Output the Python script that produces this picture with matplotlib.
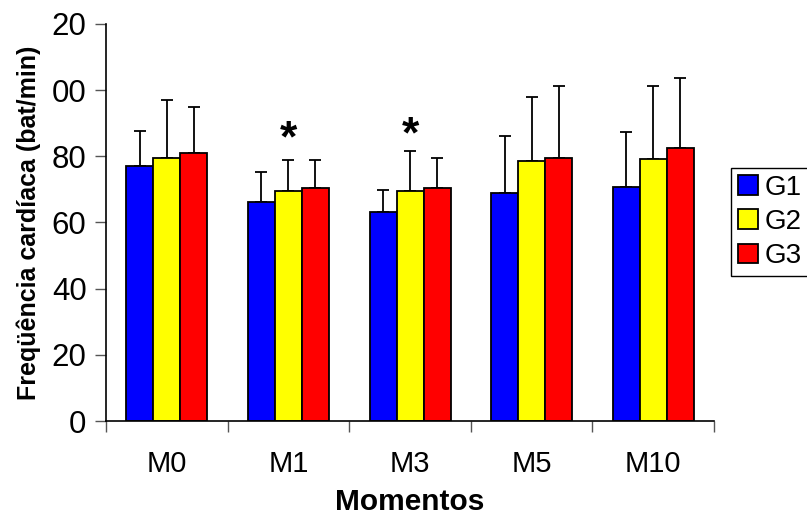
import matplotlib
matplotlib.use('Agg')
import matplotlib.pyplot as plt
import numpy as np

plt.rcParams['font.family'] = ['Liberation Sans', 'DejaVu Sans']

# dados
momentos = ['M0', 'M1', 'M3', 'M5', 'M10']
grupos = ['G1', 'G2', 'G3']
cores = ['#0000ff', '#ffff00', '#ff0000']
g1 = [77.2, 66.1, 63.2, 68.9, 70.8]
g2 = [79.5, 69.4, 69.4, 78.6, 79.1]
g3 = [80.9, 70.3, 70.3, 79.5, 82.4]
dp1 = [10.6, 9.1, 6.7, 17.3, 16.6]
dp2 = [17.4, 9.5, 12.2, 19.3, 22.3]
dp3 = [14.0, 8.6, 9.2, 21.9, 21.4]
yticks = [0, 20, 40, 60, 80, 100, 120]
ytick_labels = ['0', '20', '40', '60', '80', '00', '20']
# asteriscos (momento, altura)
asteriscos = [(1, 88.3), (2, 89.5)]

fig = plt.figure(figsize=(8.07, 5.16), dpi=100)
ax = fig.add_axes([0.1314, 0.1841, 0.7534, 0.7694])

x = np.arange(len(momentos))
w = 0.222
for i, (vals, dps) in enumerate(zip([g1, g2, g3], [dp1, dp2, dp3])):
    ax.bar(x + (i - 1) * w, vals, w, color=cores[i], edgecolor='black',
           linewidth=1.3, label=grupos[i], zorder=2)
    ax.errorbar(x + (i - 1) * w, vals, yerr=[np.zeros(len(vals)), dps],
                fmt='none', ecolor='black', elinewidth=1.3, capsize=4.5,
                capthick=1.3, zorder=1)

for m, h in asteriscos:
    ax.annotate('*', (x[m], h), xytext=(0, -8), textcoords='offset points',
                ha='center', va='center', fontsize=32, fontweight='bold')

ax.set_xlim(-0.5, len(momentos) - 0.5)
ax.set_ylim(0, 120)
ax.set_yticks(yticks)
ax.set_yticklabels(ytick_labels, fontsize=22.5)
ax.set_xticks(x)
ax.set_xticklabels(momentos, fontsize=21)
ax.set_xticks(np.arange(len(momentos) + 1) - 0.5, minor=True)
ax.tick_params(axis='x', which='major', length=0, pad=21)
ax.tick_params(axis='x', which='minor', length=8, width=1, color='#555555')
ax.tick_params(axis='y', length=8, width=1, color='#555555', pad=6)

for s in ['top', 'right']:
    ax.spines[s].set_visible(False)
for s in ['left', 'bottom']:
    ax.spines[s].set_linewidth(1.2)

ax.set_xlabel('Momentos', fontsize=21.5, fontweight='bold', labelpad=7)
ax.set_ylabel('Freqüência cardíaca (bat/min)', fontsize=18, fontweight='bold', labelpad=8)

leg = fig.legend(loc='center left', bbox_to_anchor=(0.906, 0.57), fontsize=20,
                 fancybox=False, edgecolor='black', framealpha=1,
                 handlelength=0.7, handleheight=0.7, handletextpad=0.25,
                 borderpad=0.25, labelspacing=0.3, borderaxespad=0)
leg.get_frame().set_linewidth(1.0)

fig.savefig('out.png', dpi=100)
